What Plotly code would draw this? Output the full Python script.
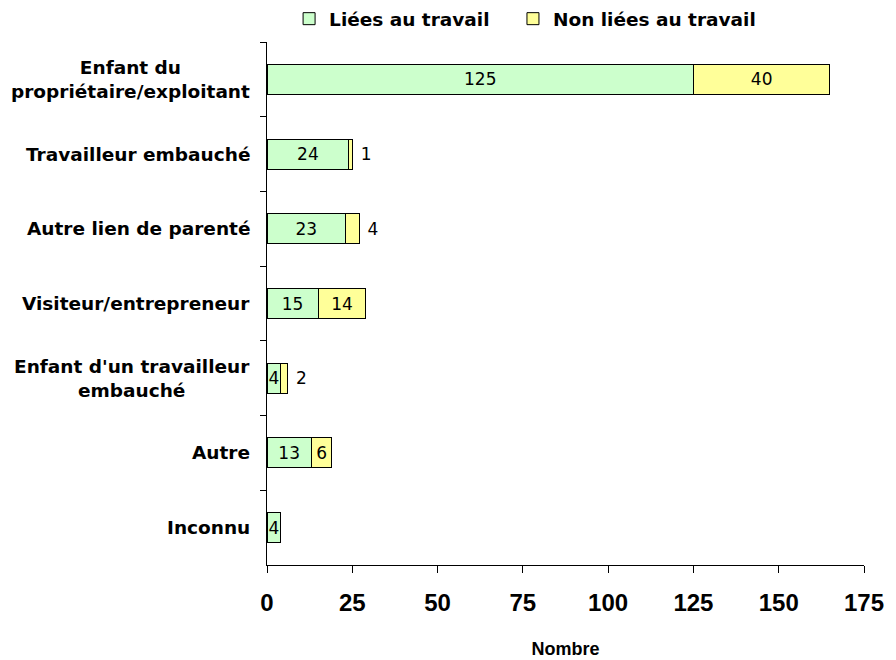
import plotly.graph_objects as go

CATEGORIES = [
    "Enfant du<br>propriétaire/exploitant",
    "Travailleur embauché",
    "Autre lien de parenté",
    "Visiteur/entrepreneur",
    "Enfant d'un travailleur<br>embauché",
    "Autre",
    "Inconnu",
]
LIEES = [125, 24, 23, 15, 4, 13, 4]
NON_LIEES = [40, 1, 4, 14, 2, 6, None]
NON_LIEES_POS = ["inside", "outside", "outside", "inside", "outside", "inside", "inside"]
X_TICKS = [0, 25, 50, 75, 100, 125, 150, 175]

SANS = "Liberation Sans, Arial, sans-serif"
WIDE = "DejaVu Sans, Verdana, sans-serif"

fig = go.Figure()
fig.add_trace(go.Bar(
    y=CATEGORIES,
    x=LIEES,
    orientation="h",
    name="<b>Liées au travail</b>",
    legend="legend",
    marker=dict(color="#ccffcc", line=dict(color="#000000", width=1)),
    text=[str(v) for v in LIEES],
    textposition="inside",
    insidetextanchor="middle",
    constraintext="none",
    textfont=dict(family=WIDE, size=17, color="#000000"),
))
fig.add_trace(go.Bar(
    y=CATEGORIES,
    x=NON_LIEES,
    orientation="h",
    name="<b>Non liées au travail</b>",
    legend="legend2",
    marker=dict(color="#ffff99", line=dict(color="#000000", width=1)),
    text=[("" if v is None else (str(v) if p == "inside" else " " + str(v)))
          for v, p in zip(NON_LIEES, NON_LIEES_POS)],
    textposition=NON_LIEES_POS,
    insidetextanchor="middle",
    constraintext="none",
    cliponaxis=False,
    textfont=dict(family=WIDE, size=17, color="#000000"),
))

# category labels: centred lines, right edge just left of the axis
for cat in CATEGORIES:
    fig.add_annotation(
        x=0, xref="paper", xanchor="right", xshift=-15,
        y=cat, yref="y",
        text=f"<b>{cat}</b>",
        showarrow=False,
        align="center",
        font=dict(family=WIDE, size=18.5, color="#000000"),
    )

legend_style = dict(
    orientation="h",
    xanchor="left", xref="paper",
    y=0.971, yanchor="middle", yref="container",
    font=dict(family=WIDE, size=18.5, color="#000000"),
    itemwidth=30,
    bgcolor="rgba(0,0,0,0)",
)

fig.update_layout(
    width=896,
    height=660,
    barmode="stack",
    bargap=0.6,
    paper_bgcolor="#ffffff",
    plot_bgcolor="#ffffff",
    margin=dict(l=267, r=32, t=42, b=95, autoexpand=False),
    font=dict(family=SANS, size=15, color="#000000"),
    showlegend=True,
    legend=dict(legend_style, x=0.037),
    legend2=dict(legend_style, x=0.412),
)
fig.update_xaxes(
    range=[0, 175],
    tickvals=X_TICKS,
    ticktext=[f"<b>{v}</b>" for v in X_TICKS],
    tickfont=dict(family=SANS, size=24, color="#000000"),
    ticks="outside",
    ticklen=7,
    tickcolor="#000000",
    ticklabelstandoff=9,
    showline=True,
    linecolor="#000000",
    linewidth=1,
    showgrid=False,
    zeroline=False,
    title=dict(text="<b>Nombre</b>", font=dict(family=SANS, size=18, color="#000000"), standoff=27),
)
fig.update_yaxes(
    categoryorder="array",
    categoryarray=CATEGORIES,
    autorange="reversed",
    showticklabels=False,
    ticks="outside",
    tickson="boundaries",
    ticklen=6,
    tickcolor="#000000",
    showline=True,
    linecolor="#000000",
    linewidth=1,
    showgrid=False,
)

fig.write_html(
    "out.html",
    config={"displayModeBar": False},
    post_script="document.body.style.margin='0';",
)
